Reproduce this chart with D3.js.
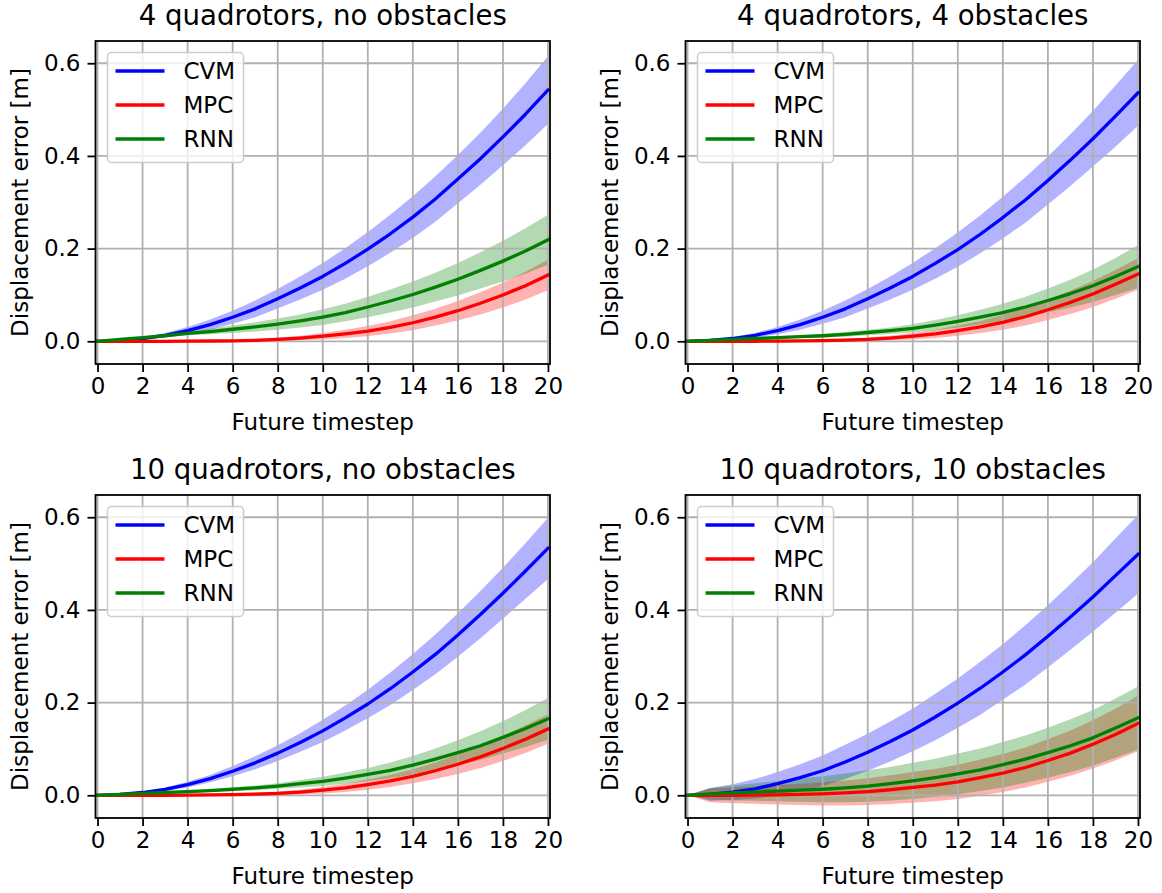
<!DOCTYPE html>
<html>
<head>
<meta charset="utf-8">
<script src="https://cdn.jsdelivr.net/npm/d3@7"></script>
<style>
  html, body { margin: 0; padding: 0; background: #ffffff; }
  svg { display: block; }
  text { font-family: "DejaVu Sans", sans-serif; fill: #000; }
</style>
</head>
<body>
<script>
// ---------------- DATA ----------------
const timesteps = d3.range(0, 21);
const xTickValues = [0, 2, 4, 6, 8, 10, 12, 14, 16, 18, 20];
const yTickValues = [0.0, 0.2, 0.4, 0.6];
const seriesNames = ["CVM", "MPC", "RNN"];
const seriesColors = ["#0000ff", "#ff0000", "#008000"];
const panelTitles = [
  "4 quadrotors, no obstacles",
  "4 quadrotors, 4 obstacles",
  "10 quadrotors, no obstacles",
  "10 quadrotors, 10 obstacles"
];

// Panel 1: 4 quadrotors, no obstacles
const p1_cvm_mean = [0, 0.002, 0.006, 0.013, 0.023, 0.036, 0.052, 0.070, 0.092, 0.115, 0.140, 0.168, 0.199, 0.232, 0.268, 0.307, 0.350, 0.394, 0.441, 0.490, 0.542];
const p1_cvm_sd   = [0, 0.001, 0.003, 0.005, 0.008, 0.011, 0.014, 0.018, 0.021, 0.025, 0.029, 0.033, 0.037, 0.041, 0.045, 0.049, 0.052, 0.056, 0.061, 0.067, 0.073];
const p1_mpc_mean = [0, 0, 0, 0, 0.0003, 0.0006, 0.001, 0.002, 0.004, 0.007, 0.011, 0.016, 0.022, 0.030, 0.040, 0.052, 0.066, 0.082, 0.100, 0.120, 0.143];
const p1_mpc_sd   = [0, 0, 0, 0.0005, 0.001, 0.0015, 0.002, 0.003, 0.004, 0.005, 0.007, 0.009, 0.011, 0.013, 0.016, 0.018, 0.021, 0.024, 0.027, 0.030, 0.033];
const p1_rnn_mean = [0, 0.004, 0.008, 0.012, 0.017, 0.021, 0.026, 0.031, 0.037, 0.044, 0.052, 0.062, 0.074, 0.087, 0.101, 0.117, 0.134, 0.153, 0.173, 0.195, 0.219];
const p1_rnn_sd   = [0, 0.001, 0.002, 0.003, 0.004, 0.006, 0.008, 0.010, 0.012, 0.014, 0.017, 0.019, 0.022, 0.025, 0.028, 0.031, 0.035, 0.039, 0.044, 0.049, 0.054];

// Panel 2: 4 quadrotors, 4 obstacles
const p2_cvm_mean = [0, 0.002, 0.006, 0.013, 0.023, 0.036, 0.052, 0.070, 0.092, 0.115, 0.140, 0.168, 0.198, 0.231, 0.267, 0.305, 0.347, 0.391, 0.437, 0.486, 0.536];
const p2_cvm_sd   = [0, 0.001, 0.003, 0.005, 0.008, 0.011, 0.014, 0.018, 0.021, 0.025, 0.029, 0.033, 0.037, 0.041, 0.045, 0.049, 0.052, 0.056, 0.060, 0.066, 0.071];
const p2_mpc_mean = [0, 0, 0, 0, 0.0005, 0.001, 0.0015, 0.0025, 0.004, 0.007, 0.011, 0.016, 0.023, 0.031, 0.041, 0.053, 0.068, 0.084, 0.102, 0.123, 0.145];
const p2_mpc_sd   = [0, 0, 0, 0.0005, 0.001, 0.0015, 0.002, 0.003, 0.004, 0.005, 0.007, 0.009, 0.011, 0.013, 0.016, 0.019, 0.022, 0.025, 0.028, 0.031, 0.034];
const p2_rnn_mean = [0, 0.002, 0.004, 0.006, 0.008, 0.010, 0.012, 0.015, 0.019, 0.023, 0.028, 0.035, 0.043, 0.052, 0.062, 0.074, 0.088, 0.103, 0.120, 0.140, 0.161];
const p2_rnn_sd   = [0, 0.001, 0.001, 0.002, 0.002, 0.003, 0.004, 0.005, 0.006, 0.007, 0.009, 0.011, 0.013, 0.016, 0.019, 0.022, 0.026, 0.030, 0.035, 0.040, 0.046];

// Panel 3: 10 quadrotors, no obstacles
const p3_cvm_mean = [0, 0.002, 0.006, 0.013, 0.023, 0.036, 0.052, 0.070, 0.091, 0.114, 0.139, 0.167, 0.197, 0.230, 0.266, 0.304, 0.346, 0.390, 0.436, 0.484, 0.533];
const p3_cvm_sd   = [0, 0.001, 0.002, 0.004, 0.006, 0.008, 0.011, 0.014, 0.017, 0.020, 0.024, 0.027, 0.031, 0.035, 0.039, 0.043, 0.047, 0.051, 0.055, 0.060, 0.066];
const p3_mpc_mean = [0, 0, 0, 0, 0.0005, 0.001, 0.0015, 0.0025, 0.004, 0.007, 0.011, 0.016, 0.023, 0.031, 0.041, 0.053, 0.067, 0.083, 0.101, 0.121, 0.143];
const p3_mpc_sd   = [0, 0, 0, 0.0005, 0.001, 0.0015, 0.002, 0.003, 0.004, 0.005, 0.007, 0.009, 0.011, 0.013, 0.015, 0.018, 0.021, 0.024, 0.027, 0.030, 0.032];
const p3_rnn_mean = [0, 0.002, 0.004, 0.006, 0.008, 0.010, 0.013, 0.016, 0.020, 0.025, 0.030, 0.037, 0.045, 0.054, 0.065, 0.078, 0.092, 0.107, 0.125, 0.144, 0.165];
const p3_rnn_sd   = [0, 0.001, 0.001, 0.002, 0.002, 0.003, 0.004, 0.005, 0.006, 0.008, 0.010, 0.012, 0.014, 0.017, 0.020, 0.023, 0.027, 0.031, 0.035, 0.040, 0.045];

// Panel 4: 10 quadrotors, 10 obstacles
const p4_cvm_mean = [0, 0.002, 0.007, 0.014, 0.025, 0.038, 0.053, 0.072, 0.093, 0.116, 0.141, 0.169, 0.199, 0.231, 0.266, 0.303, 0.343, 0.385, 0.428, 0.474, 0.520];
const p4_cvm_sd   = [0, 0.014, 0.017, 0.021, 0.025, 0.029, 0.033, 0.037, 0.040, 0.043, 0.046, 0.050, 0.053, 0.057, 0.060, 0.064, 0.067, 0.071, 0.075, 0.080, 0.085];
const p4_mpc_mean = [0, 0, 0, 0.0005, 0.001, 0.002, 0.003, 0.005, 0.008, 0.012, 0.017, 0.022, 0.029, 0.038, 0.048, 0.060, 0.075, 0.091, 0.110, 0.131, 0.155];
const p4_mpc_sd   = [0, 0.015, 0.017, 0.019, 0.021, 0.023, 0.025, 0.027, 0.029, 0.031, 0.033, 0.035, 0.037, 0.039, 0.041, 0.043, 0.046, 0.049, 0.052, 0.056, 0.060];
const p4_rnn_mean = [0, 0.003, 0.005, 0.007, 0.009, 0.011, 0.013, 0.016, 0.020, 0.025, 0.031, 0.038, 0.046, 0.055, 0.066, 0.078, 0.092, 0.107, 0.124, 0.145, 0.167];
const p4_rnn_sd   = [0, 0.012, 0.016, 0.019, 0.022, 0.025, 0.028, 0.031, 0.034, 0.036, 0.039, 0.041, 0.044, 0.046, 0.049, 0.051, 0.054, 0.057, 0.060, 0.064, 0.068];

const panelData = [
  [[p1_cvm_mean, p1_cvm_sd], [p1_mpc_mean, p1_mpc_sd], [p1_rnn_mean, p1_rnn_sd]],
  [[p2_cvm_mean, p2_cvm_sd], [p2_mpc_mean, p2_mpc_sd], [p2_rnn_mean, p2_rnn_sd]],
  [[p3_cvm_mean, p3_cvm_sd], [p3_mpc_mean, p3_mpc_sd], [p3_rnn_mean, p3_rnn_sd]],
  [[p4_cvm_mean, p4_cvm_sd], [p4_mpc_mean, p4_mpc_sd], [p4_rnn_mean, p4_rnn_sd]]
];

// ---------------- LAYOUT ----------------
const W = 1162, H = 893;
const colLeft = [95.5, 685.5];
const rowTop = [41, 495];
const pw = 454.5, ph = 323;
const fs = 23, titleFs = 27.6;

const svg = d3.select("body").append("svg")
  .attr("width", W).attr("height", H)
  .attr("viewBox", `0 0 ${W} ${H}`);

svg.append("rect").attr("width", W).attr("height", H).attr("fill", "#fff");

panelData.forEach((series, pi) => {
  const L = colLeft[pi % 2], T = rowTop[Math.floor(pi / 2)];
  const x = d3.scaleLinear().domain([-0.09, 20.09]).range([L, L + pw]);
  const y = d3.scaleLinear().domain([-0.049, 0.648]).range([T + ph, T]);

  const g = svg.append("g");
  const clipId = "clip" + pi;
  g.append("clipPath").attr("id", clipId)
    .append("rect").attr("x", L).attr("y", T).attr("width", pw).attr("height", ph);

  const plot = g.append("g").attr("clip-path", `url(#${clipId})`);

  // bands
  series.forEach(([mean, sd], si) => {
    const pts = timesteps.map((t, i) => ({ t, m: mean[i], s: sd[i] }));
    const area = d3.area()
      .x(d => x(d.t))
      .y0(d => y(d.m - d.s))
      .y1(d => y(d.m + d.s));
    plot.append("path").datum(pts)
      .attr("d", area)
      .attr("fill", seriesColors[si])
      .attr("fill-opacity", 0.3)
      .attr("stroke", "none");
  });

  // grid
  plot.append("g").selectAll("line").data(xTickValues).join("line")
    .attr("x1", d => x(d)).attr("x2", d => x(d))
    .attr("y1", T).attr("y2", T + ph)
    .attr("stroke", "#b0b0b0").attr("stroke-width", 1.8);
  plot.append("g").selectAll("line").data(yTickValues).join("line")
    .attr("y1", d => y(d)).attr("y2", d => y(d))
    .attr("x1", L).attr("x2", L + pw)
    .attr("stroke", "#b0b0b0").attr("stroke-width", 1.8);

  // lines
  series.forEach(([mean], si) => {
    const line = d3.line().x((d, i) => x(timesteps[i])).y(d => y(d));
    plot.append("path").datum(mean)
      .attr("d", line)
      .attr("fill", "none")
      .attr("stroke", seriesColors[si])
      .attr("stroke-width", 3.3)
      .attr("stroke-linejoin", "round")
      .attr("stroke-linecap", "square");
  });

  // axes
  const xAxis = d3.axisBottom(x).tickValues(xTickValues)
    .tickFormat(d3.format("d")).tickSize(8).tickPadding(6).tickSizeOuter(0);
  const gx = g.append("g").attr("transform", `translate(0,${T + ph})`).call(xAxis);
  const yAxis = d3.axisLeft(y).tickValues(yTickValues)
    .tickFormat(d3.format(".1f")).tickSize(8).tickPadding(7).tickSizeOuter(0);
  const gy = g.append("g").attr("transform", `translate(${L},0)`).call(yAxis);
  [gx, gy].forEach(a => {
    a.select(".domain").remove();
    a.selectAll(".tick line").attr("stroke", "#000").attr("stroke-width", 1.8);
    a.selectAll(".tick text").attr("font-size", fs)
      .attr("font-family", "DejaVu Sans").attr("fill", "#000");
  });

  // spines
  g.append("rect").attr("x", L).attr("y", T).attr("width", pw).attr("height", ph)
    .attr("fill", "none").attr("stroke", "#000").attr("stroke-width", 1.8);

  // title
  g.append("text").attr("x", L + pw / 2).attr("y", T - 16)
    .attr("text-anchor", "middle").attr("font-size", titleFs)
    .text(panelTitles[pi]);

  // x label
  g.append("text").attr("x", L + pw / 2).attr("y", T + ph + 66)
    .attr("text-anchor", "middle").attr("font-size", fs)
    .text("Future timestep");

  // y label
  g.append("text")
    .attr("transform", `translate(${L - 67.5},${T + ph / 2}) rotate(-90)`)
    .attr("text-anchor", "middle").attr("font-size", fs)
    .text("Displacement error [m]");

  // legend
  const lg = g.append("g");
  lg.append("rect").attr("x", L + 12).attr("y", T + 11.5)
    .attr("width", 136).attr("height", 110).attr("rx", 4)
    .attr("fill", "#fff").attr("fill-opacity", 0.8)
    .attr("stroke", "#cccccc").attr("stroke-width", 1.5);
  seriesNames.forEach((name, si) => {
    const ly = T + 30 + si * 34;
    lg.append("line").attr("x1", L + 20).attr("x2", L + 69)
      .attr("y1", ly).attr("y2", ly)
      .attr("stroke", seriesColors[si]).attr("stroke-width", 3.3);
    lg.append("text").attr("x", L + 88).attr("y", ly + 8.2)
      .attr("font-size", fs).text(name);
  });
});
</script>
</body>
</html>
